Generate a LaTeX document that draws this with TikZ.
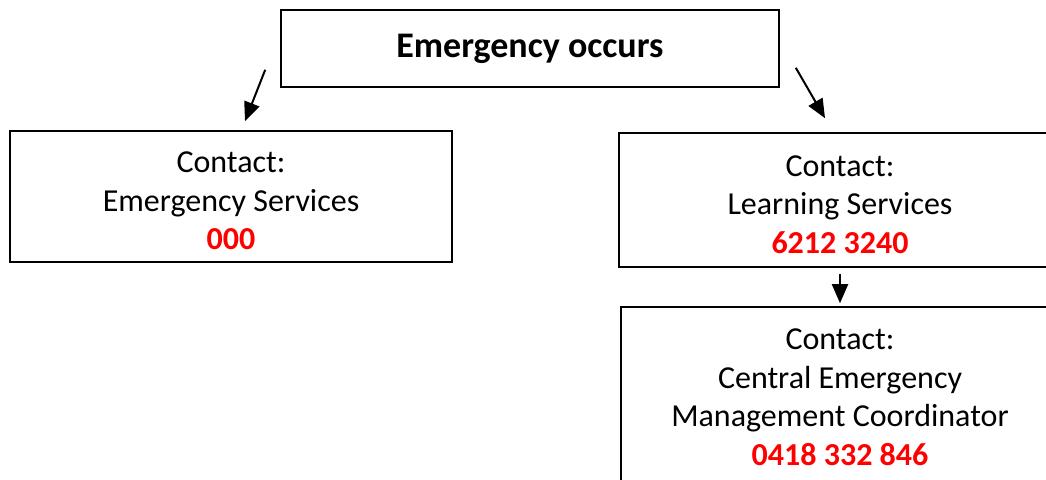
\documentclass[tikz,border=0pt]{standalone}
\usepackage{fontspec}
\setmainfont{Carlito}
\usepackage{xcolor}
\usetikzlibrary{arrows.meta,calc}
\definecolor{PhoneRed}{HTML}{FF0000}

\tikzset{
  contactbox/.style={draw,line width=1.6pt,align=center,inner sep=0pt,
    font=\fontsize{32}{38.5}\selectfont},
  flowarrow/.style={line width=2pt,-{Triangle[length=19pt,width=16pt]}}
}
\newcommand{\phone}[1]{{\bfseries\color{PhoneRed}#1}}
\newcommand{\topgap}{\rule{0pt}{30pt}}

\begin{document}
\begin{tikzpicture}[x=1pt,y=-1pt]
   \path[use as bounding box,clip] (0,0) rectangle (1046,479);

   \node[contactbox,minimum width=498pt,minimum height=77pt,
     font=\fontsize{36}{40}\selectfont\bfseries] (occurs) at (530,48.5) {Emergency occurs};

   \node[contactbox,minimum width=442pt,minimum height=131pt] (ambulance) at (231,196.5)
     {\topgap Contact:\\Emergency Services\\\phone{000}};
   \node[contactbox,minimum width=442pt,minimum height=134pt] (learning) at (840,200)
     {\topgap Contact:\\Learning Services\\\phone{6212 3240}};
   \node[contactbox,minimum width=438pt,minimum height=180pt] (central) at (840,397)
     {Contact:\\Central Emergency\\Management Coordinator\\\phone{0418 332 846}};

   \coordinate (l1) at ($(occurs.south west)+(-15,-18)$);
   \coordinate (l2) at ($(ambulance.north)+(14,-9)$);
   \coordinate (r1) at ($(occurs.south east)+(16,-20)$);
   \coordinate (r2) at ($(learning.north)+(-15,-14)$);

   \draw[flowarrow] (l1) -- (l2);
   \draw[flowarrow] (r1) -- (r2);
   \draw[flowarrow] ([yshift=-6pt]learning.south) -- ([yshift=3pt]central.north);
\end{tikzpicture}
\end{document}
